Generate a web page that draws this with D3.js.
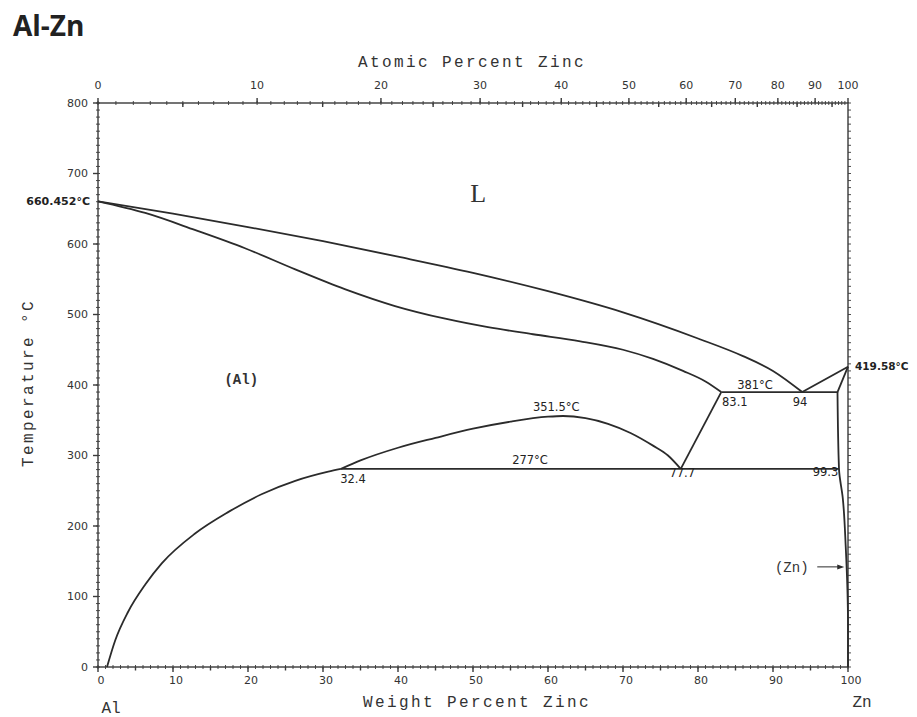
<!DOCTYPE html>
<html>
<head>
<meta charset="utf-8">
<script src="https://cdn.jsdelivr.net/npm/d3@7"></script>
<style>
  body { margin: 0; background: #fff; }
  svg { display: block; }
</style>
</head>
<body>
<script>
"use strict";

// phase boundaries, [weight % Zn, temperature °C]
const liquidusAl = [[0, 660.5], [10, 643], [20, 624], [30, 604], [40, 582], [50, 559], [60, 533],
  [70, 503], [80, 466], [86, 441], [90, 420], [93.9, 390]];
const solidusAl = [[0, 660.5], [6.3, 644], [12.9, 620], [19.6, 594], [26.3, 564], [32.9, 536],
  [39.6, 512], [46.3, 494], [52, 482], [58, 472], [64.3, 462], [70, 450], [74, 437], [78, 420],
  [81, 405], [83.1, 390]];
const solvusAl = [[1.2, 0], [2.3, 38], [4.0, 78], [6.3, 117], [8.5, 147], [12.9, 189], [17.4, 220],
  [21.8, 245], [26.3, 264], [30.7, 277], [32.4, 281]];
const miscibilityGap = [[32.4, 281], [35, 293], [40, 311], [45, 325], [50, 338], [55, 348],
  [60, 355], [62, 356], [65, 353], [68, 345], [71, 332], [74, 314], [76, 300], [77.7, 281]];
const gapToEutectic = [[77.7, 281], [83.1, 390]];
const liquidusZn = [[93.9, 390], [100, 426]];
const solidusZn = [[100, 426], [98.6, 390]];
const solvusZn = [[98.6, 390], [98.8, 281], [99.3, 240], [99.7, 170], [100, 60], [100, 0]];
const eutectic = [[83.1, 390], [98.6, 390]];
const monotectoid = [[32.4, 281], [98.8, 281]];

// axes
const tempTicks = [0, 100, 200, 300, 400, 500, 600, 700, 800];
const weightTicks = [0, 10, 20, 30, 40, 50, 60, 70, 80, 90, 100];
const atomicTicks = [0, 10, 20, 30, 40, 50, 60, 70, 80, 90, 100];

// annotations, placed in diagram units
const smallLabels = [
  { text: '351.5°C', w: 61.1, t: 369, anchor: 'middle' },
  { text: '381°C', w: 87.6, t: 400, anchor: 'middle' },
  { text: '83.1', w: 83.2, t: 376, anchor: 'start' },
  { text: '94', w: 93.6, t: 376, anchor: 'middle' },
  { text: '277°C', w: 57.6, t: 294, anchor: 'middle' },
  { text: '32.4', w: 34.0, t: 267, anchor: 'middle' },
  { text: '77.7', w: 77.9, t: 275, anchor: 'middle' },
  { text: '99.3', w: 97.0, t: 277, anchor: 'middle' },
];

const AL = 26.98, ZN = 65.38;
const atToWt = (a) => 100 * a * ZN / (a * ZN + (100 - a) * AL);

const width = 917, height = 717;
const svg = d3.select('body').append('svg').attr('width', width).attr('height', height);

const x = d3.scaleLinear().domain([0, 100]).range([98, 848]);
const y = d3.scaleLinear().domain([0, 800]).range([667, 103]);

const ink = '#2b2b2b';
const mono = '"Liberation Mono", "DejaVu Sans Mono", monospace';
const sans = '"DejaVu Sans", sans-serif';

// title
svg.append('text')
  .attr('x', 13).attr('y', 36)
  .style('font-family', '"Open Sans", sans-serif')
  .style('font-weight', 700)
  .style('font-size', '28px')
  .attr('fill', '#222')
  .text('Al-Zn');

// frame
const axisG = svg.append('g').attr('stroke', '#3a3a3a').attr('stroke-width', 1.4);
axisG.append('rect')
  .attr('x', x(0)).attr('y', y(800))
  .attr('width', x(100) - x(0)).attr('height', y(0) - y(800))
  .attr('fill', 'none');

// minor ticks
const minorT = d3.range(0, 801, 10);
axisG.selectAll('.lminor').data(minorT).join('line')
  .attr('x1', x(0) - 2).attr('x2', x(0) + 2)
  .attr('y1', (d) => y(d)).attr('y2', (d) => y(d))
  .attr('stroke-width', 0.9);
axisG.selectAll('.rminor').data(minorT).join('line')
  .attr('x1', x(100)).attr('x2', x(100) + 3)
  .attr('y1', (d) => y(d)).attr('y2', (d) => y(d))
  .attr('stroke-width', 0.9);
axisG.selectAll('.bminor').data(d3.range(0, 101, 1)).join('line')
  .attr('x1', (d) => x(d)).attr('x2', (d) => x(d))
  .attr('y1', y(0) - 2).attr('y2', y(0) + 2)
  .attr('stroke-width', 0.9);
axisG.selectAll('.tminor').data(d3.range(0, 100, 1)).join('line')
  .attr('x1', (d) => x(atToWt(d))).attr('x2', (d) => x(atToWt(d)))
  .attr('y1', y(800) - 2).attr('y2', y(800) + 2)
  .attr('stroke-width', 0.9);

// major ticks
axisG.selectAll('.lmajor').data(tempTicks).join('line')
  .attr('x1', x(0) - 5).attr('x2', x(0))
  .attr('y1', (d) => y(d)).attr('y2', (d) => y(d));
axisG.selectAll('.bmajor').data(weightTicks).join('line')
  .attr('x1', (d) => x(d)).attr('x2', (d) => x(d))
  .attr('y1', y(0)).attr('y2', y(0) + 5);
axisG.selectAll('.bmid').data(d3.range(5, 100, 10)).join('line')
  .attr('x1', (d) => x(d)).attr('x2', (d) => x(d))
  .attr('y1', y(0)).attr('y2', y(0) + 3.5);
axisG.selectAll('.tmajor').data(atomicTicks).join('line')
  .attr('x1', (d) => x(atToWt(d))).attr('x2', (d) => x(atToWt(d)))
  .attr('y1', y(800) - 5).attr('y2', y(800));
axisG.selectAll('.tmid').data(d3.range(5, 100, 10)).join('line')
  .attr('x1', (d) => x(atToWt(d))).attr('x2', (d) => x(atToWt(d)))
  .attr('y1', y(800)).attr('y2', y(800) + 4);

// tick labels
const tickText = svg.append('g')
  .style('font-family', sans).style('font-size', '11px').attr('fill', '#333');
tickText.selectAll('.ll').data(tempTicks).join('text')
  .attr('x', x(0) - 10).attr('y', (d) => y(d)).attr('dy', '0.35em')
  .attr('text-anchor', 'end').text((d) => d);
tickText.selectAll('.bl').data(weightTicks).join('text')
  .attr('x', (d) => x(d) + 3).attr('y', y(0) + 17)
  .attr('text-anchor', 'middle').text((d) => d);
tickText.selectAll('.tl').data(atomicTicks).join('text')
  .attr('x', (d) => x(atToWt(d))).attr('y', y(800) - 14)
  .attr('text-anchor', 'middle').text((d) => d);

// axis titles
const titleText = svg.append('g')
  .style('font-family', mono).style('font-size', '16px')
  .style('letter-spacing', '2.4px').attr('fill', '#333');
titleText.append('text')
  .attr('x', 472).attr('y', 67).attr('text-anchor', 'middle')
  .text('Atomic Percent Zinc');
titleText.append('text')
  .attr('x', 477).attr('y', 707).attr('text-anchor', 'middle')
  .text('Weight Percent Zinc');
titleText.append('text')
  .attr('transform', 'translate(33,383) rotate(-90)').attr('text-anchor', 'middle')
  .text('Temperature °C');
titleText.append('text')
  .attr('x', x(0) + 13).attr('y', 713).attr('text-anchor', 'middle')
  .style('letter-spacing', '0px').text('Al');
titleText.append('text')
  .attr('x', x(100) + 14).attr('y', 707).attr('text-anchor', 'middle')
  .style('letter-spacing', '0px').text('Zn');

// phase boundaries
const smooth = d3.line()
  .x((d) => x(d[0]))
  .y((d) => y(d[1]))
  .curve(d3.curveMonotoneX);
const straight = d3.line().x((d) => x(d[0])).y((d) => y(d[1]));
const steep = d3.line().x((d) => x(d[0])).y((d) => y(d[1])).curve(d3.curveMonotoneY);

const curves = svg.append('g')
  .attr('fill', 'none').attr('stroke', ink).attr('stroke-width', 1.8)
  .attr('stroke-linejoin', 'round');
[liquidusAl, solidusAl, solvusAl, miscibilityGap].forEach((pts) => {
  curves.append('path').attr('d', smooth(pts));
});
[gapToEutectic, liquidusZn, solidusZn, eutectic, monotectoid].forEach((pts) => {
  curves.append('path').attr('d', straight(pts));
});
curves.append('path').attr('d', steep(solvusZn));

// labels on the diagram
const noteText = svg.append('g')
  .style('font-family', sans).style('font-size', '11.5px').attr('fill', '#222');
noteText.selectAll('.note').data(smallLabels).join('text')
  .attr('x', (d) => x(d.w)).attr('y', (d) => y(d.t)).attr('dy', '0.35em')
  .attr('text-anchor', (d) => d.anchor)
  .text((d) => d.text);
noteText.append('text')
  .attr('x', x(0) - 8).attr('y', y(660.5)).attr('dy', '0.35em')
  .attr('text-anchor', 'end').style('font-weight', 700).style('font-size', '11px')
  .text('660.452°C');
noteText.append('text')
  .attr('x', x(100) + 7).attr('y', y(426)).attr('dy', '0.35em')
  .style('font-weight', 700).style('font-size', '10.5px')
  .text('419.58°C');

// phase fields
svg.append('text')
  .attr('x', x(50.7)).attr('y', y(672)).attr('dy', '0.35em')
  .attr('text-anchor', 'middle')
  .style('font-family', '"Liberation Serif", serif').style('font-size', '26px')
  .attr('fill', '#333')
  .text('L');
svg.append('text')
  .attr('x', x(19.1)).attr('y', y(408)).attr('dy', '0.35em')
  .attr('text-anchor', 'middle')
  .style('font-family', mono).style('font-size', '14px').style('font-weight', 700)
  .attr('fill', '#333')
  .text('(Al)');

// (Zn) with arrow
svg.append('text')
  .attr('x', x(92.5)).attr('y', y(142)).attr('dy', '0.35em')
  .attr('text-anchor', 'middle')
  .style('font-family', mono).style('font-size', '14px').attr('fill', '#333')
  .text('(Zn)');
svg.append('line')
  .attr('x1', x(95.9)).attr('x2', x(99.0))
  .attr('y1', y(142)).attr('y2', y(142))
  .attr('stroke', ink).attr('stroke-width', 1);
svg.append('path')
  .attr('d', `M${x(99.5)},${y(142)} l-7,-2.5 l0,5 z`)
  .attr('fill', ink);
</script>
</body>
</html>
